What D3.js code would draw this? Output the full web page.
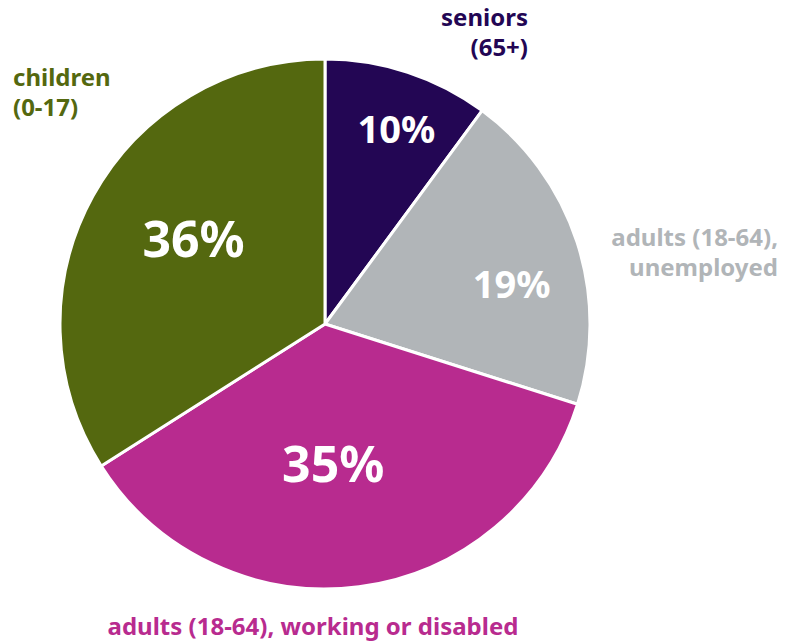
<!DOCTYPE html>
<html>
<head>
<meta charset="utf-8">
<script src="https://cdn.jsdelivr.net/npm/d3@7"></script>
<style>
  body { margin: 0; background: #fff; }
  svg text { font-family: "Noto Sans", Lato, sans-serif; font-weight: 700; }
</style>
</head>
<body>
<div id="chart"></div>
<script>
// slices, clockwise from 12 o'clock
var groups = ["seniors", "unemployed", "working", "children"];
var shares = [10.1, 19.8, 36.1, 34.0];
var pctLabels = ["10%", "19%", "35%", "36%"];
var groupNames = [
  ["seniors", "(65+)"],
  ["adults (18-64),", "unemployed"],
  ["adults (18-64), working or disabled"],
  ["children", "(0-17)"]
];
var colors = ["#230654", "#b1b5b8", "#b82b8f", "#54680f"];

var width = 799, height = 643;
var cx = 325, cy = 324, radius = 265;

// where the percentage sits inside each slice (fraction of radius) and its size
var pctStyle = {
  seniors:    { r: 0.78, a: 2,   size: 38 },
  unemployed: { r: 0.72, a: 6,   size: 38 },
  working:    { r: 0.53, a: 4,   size: 50 },
  children:   { r: 0.59, a: 4,   size: 50 }
};
// outer name labels
var nameStyle = {
  seniors:    { x: 528, y: 26,  anchor: "end" },
  unemployed: { x: 778, y: 246, anchor: "end" },
  working:    { x: 313, y: 635, anchor: "middle" },
  children:   { x: 13,  y: 86,  anchor: "start" }
};

var data = groups.map(function(g, i) {
  return { key: g, value: shares[i], pct: pctLabels[i], name: groupNames[i], color: colors[i] };
});

var svg = d3.select("#chart").append("svg")
  .attr("width", width)
  .attr("height", height);

var g = svg.append("g")
  .attr("transform", "translate(" + cx + "," + cy + ")");

var pie = d3.pie().sort(null).value(function(d) { return d.value; });
var arc = d3.arc().innerRadius(0).outerRadius(radius);

var arcs = pie(data);

g.selectAll("path.slice")
  .data(arcs)
  .enter().append("path")
  .attr("class", "slice")
  .attr("d", arc)
  .attr("fill", function(d) { return d.data.color; })
  .attr("stroke", "#fff")
  .attr("stroke-width", 3)
  .attr("stroke-linejoin", "round");

// percentages
g.selectAll("text.pct")
  .data(arcs)
  .enter().append("text")
  .attr("class", "pct")
  .attr("transform", function(d) {
    var s = pctStyle[d.data.key];
    var a = (d.startAngle + d.endAngle) / 2 + s.a * Math.PI / 180;
    var r = s.r * radius;
    return "translate(" + (r * Math.sin(a)) + "," + (-r * Math.cos(a)) + ")";
  })
  .attr("text-anchor", "middle")
  .attr("dy", "0.35em")
  .attr("fill", "#fff")
  .style("font-size", function(d) { return pctStyle[d.data.key].size + "px"; })
  .text(function(d) { return d.data.pct; });

// group names outside the pie
var names = svg.selectAll("text.name")
  .data(data)
  .enter().append("text")
  .attr("class", "name")
  .attr("x", function(d) { return nameStyle[d.key].x; })
  .attr("y", function(d) { return nameStyle[d.key].y; })
  .attr("text-anchor", function(d) { return nameStyle[d.key].anchor; })
  .attr("fill", function(d) { return d.color; })
  .style("font-size", "24px");

names.selectAll("tspan")
  .data(function(d) { return d.name.map(function(t) { return { t: t, x: nameStyle[d.key].x }; }); })
  .enter().append("tspan")
  .attr("x", function(d) { return d.x; })
  .attr("dy", function(d, i) { return i ? 30 : 0; })
  .text(function(d) { return d.t; });
</script>
</body>
</html>
